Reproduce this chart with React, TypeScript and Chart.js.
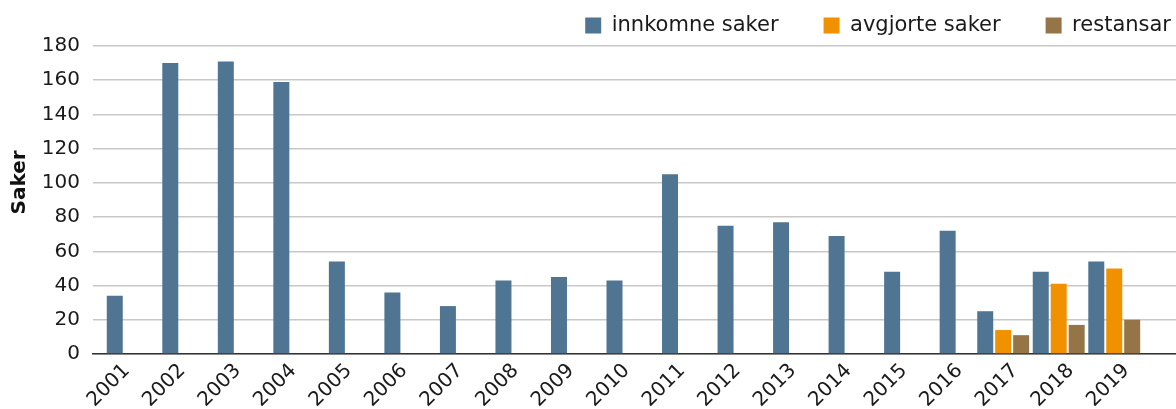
import React, { useEffect, useRef } from 'react';
import { Chart, registerables } from 'chart.js';

Chart.register(...registerables);

const years = ['2001', '2002', '2003', '2004', '2005', '2006', '2007', '2008', '2009', '2010', '2011', '2012', '2013', '2014', '2015', '2016', '2017', '2018', '2019'];
const innkomne = [34, 170, 171, 159, 54, 36, 28, 43, 45, 43, 105, 75, 77, 69, 48, 72, 25, 48, 54];
const avgjorte = [null, null, null, null, null, null, null, null, null, null, null, null, null, null, null, null, 14, 41, 50];
const restansar = [null, null, null, null, null, null, null, null, null, null, null, null, null, null, null, null, 11, 17, 20];
const seriesLabels = ['innkomne saker', 'avgjorte saker', 'restansar'];
const yTitle = 'Saker';
const yMin = 0;
const yMax = 180;
const yStep = 20;

const BLUE = '#4f7592';
const ORANGE = '#f29100';
const BROWN = '#957447';
const FONT = 'DejaVu Sans';
const TEXT = '#1a1a1a';

// The category axis of the reference sits a little inside the plot area on the right
const xRangeInset = { start: -6, end: 34 };
const xRangePlugin = {
  id: 'xRangeInset',
  afterLayout(chart: any) {
    const s = chart.scales.x;
    if (!s) return;
    const start = chart.chartArea.left + xRangeInset.start;
    const end = chart.chartArea.right - xRangeInset.end;
    s._startPixel = start;
    s._endPixel = end;
    s._length = end - start;
  },
};

// y-axis title, placed slightly above the middle of the plot as in the reference
const yTitlePlugin = {
  id: 'yTitle',
  afterDraw(chart: any) {
    const { ctx, chartArea } = chart;
    const x = 20;
    const y = chartArea.top + 0.443 * (chartArea.bottom - chartArea.top);
    ctx.save();
    ctx.translate(x, y);
    ctx.rotate(-Math.PI / 2);
    ctx.textAlign = 'center';
    ctx.textBaseline = 'middle';
    ctx.font = `bold 20px "${FONT}"`;
    ctx.fillStyle = '#111111';
    ctx.fillText(yTitle, 0, 0);
    ctx.restore();
  },
};

export default function App() {
  const ref = useRef<HTMLCanvasElement>(null);
  useEffect(() => {
    if (!ref.current) return;
    const chart = new Chart(ref.current, {
      type: 'bar',
      data: {
        labels: years,
        datasets: [
          { label: seriesLabels[0], data: innkomne, backgroundColor: BLUE, borderWidth: 0 },
          { label: seriesLabels[1], data: avgjorte, backgroundColor: ORANGE, borderWidth: 0 },
          { label: seriesLabels[2], data: restansar, backgroundColor: BROWN, borderWidth: 0 },
        ],
      },
      plugins: [xRangePlugin, yTitlePlugin],
      options: {
        animation: false,
        responsive: false,
        layout: { padding: { top: -30, left: 4, right: 0, bottom: 0 } },
        datasets: {
          bar: { categoryPercentage: 0.97, barPercentage: 0.9, maxBarThickness: 16, skipNull: true },
        },
        plugins: {
          legend: {
            position: 'top',
            align: 'end',
            labels: {
              boxWidth: 16,
              boxHeight: 16,
              padding: 45,
              color: TEXT,
              font: { family: FONT, size: 21 },
            },
          },
          tooltip: { enabled: false },
        },
        scales: {
          x: {
            grid: { display: false, drawTicks: false },
            border: { display: true, color: '#333333', width: 1.5 },
            ticks: {
              minRotation: 45,
              maxRotation: 45,
              autoSkip: false,
              padding: 5,
              labelOffset: 12,
              color: TEXT,
              font: { family: FONT, size: 20 },
            },
            afterFit: (s: any) => { s.height = 55; },
          },
          y: {
            min: yMin,
            max: yMax,
            ticks: { stepSize: yStep, padding: 13, color: TEXT, font: { family: FONT, size: 20 } },
            grid: { color: '#c8c8c8', lineWidth: 1.5, drawTicks: false },
            border: { display: false },
            afterFit: (s: any) => { s.width = 89; },
          },
          yR: {
            type: 'linear',
            position: 'right',
            grid: { display: false },
            border: { display: false },
            ticks: { display: false },
            afterFit: (s: any) => { s.width = 40; },
          },
        },
      } as any,
    });
    return () => chart.destroy();
  }, []);

  return (
    <div style={{ position: 'absolute', left: 0, top: 0, width: 1176, height: 409, overflow: 'hidden', background: '#fff' }}>
      <canvas ref={ref} width={1216} height={409} style={{ display: 'block', width: 1216, height: 409 }} />
    </div>
  );
}
